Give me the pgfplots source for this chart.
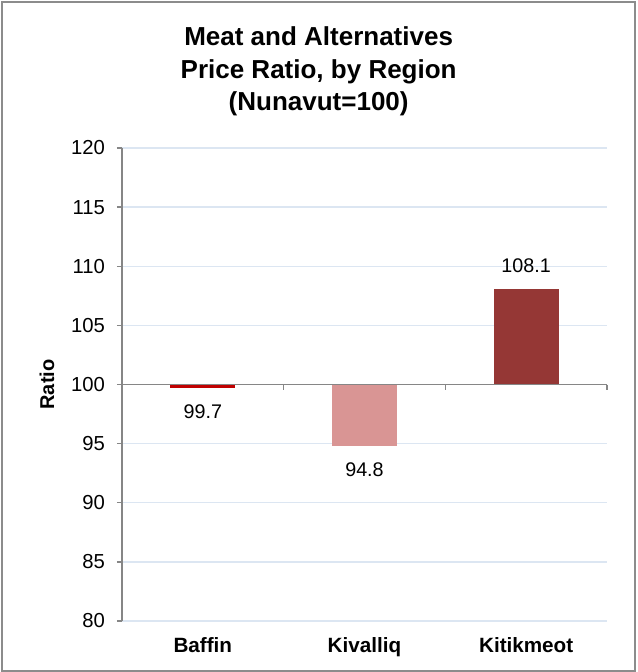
\documentclass[border=0pt]{standalone}
\usepackage{pgfplots}
\pgfplotsset{compat=1.18}
\usepackage{fontspec}
\setmainfont{Liberation Sans}

\definecolor{baffin}{HTML}{C00000}
\definecolor{kivalliq}{HTML}{D99594}
\definecolor{kitik}{HTML}{953735}
\definecolor{gridblue}{HTML}{DCE6F2}
\definecolor{axisgray}{HTML}{868686}
\definecolor{framegray}{HTML}{8C8C8C}

\begin{document}
\begin{tikzpicture}
% 1px of the reference = 0.75pt
\useasboundingbox (0,0) rectangle (477.75pt,-504pt);
\draw[framegray, line width=1.5pt] (1.5pt,-1.5pt) rectangle (476.25pt,-502.9pt);

\node[font=\fontsize{19.5}{24.4}\selectfont\bfseries, align=center] at (239pt,-53.6pt)
  {Meat and Alternatives\\Price Ratio, by Region\\(Nunavut=100)};
\node[font=\fontsize{15}{17}\selectfont\bfseries, rotate=90] at (35.25pt,-288.4pt) {Ratio};

\begin{axis}[
    at={(91.5pt,-465.75pt)}, anchor=south west,
    scale only axis,
    width=363.75pt, height=354.75pt,
    % bars hang from 100, so shift the y scale by 100
    y coord trafo/.code={\pgfmathparse{#1-100}},
    y coord inv trafo/.code={\pgfmathparse{#1+100}},
    ymin=80, ymax=120,
    ytick={80,85,90,95,100,105,110,115,120},
    yticklabels={80,85,90,95,100,105,110,115,120},
    xmin=-0.5, xmax=2.5,
    xtick={0,1,2},
    xticklabels={Baffin,Kivalliq,Kitikmeot},
    axis y line*=left,
    axis x line*=bottom,
    x axis line style={draw=none},
    y axis line style={axisgray, line width=1.1pt},
    xtick style={draw=none},
    ytick style={axisgray, line width=1.1pt},
    tick align=outside,
    major tick length=3.75pt,
    ymajorgrids,
    grid style={gridblue, line width=1pt},
    yticklabel style={font=\fontsize{15.2}{17}\selectfont, xshift=-5.5pt},
    xticklabel style={font=\fontsize{15.5}{18}\selectfont\bfseries, yshift=-5pt},
    /pgf/number format/assume math mode=true,
    ybar, bar width=48.75pt, bar shift=0pt,
    point meta=explicit symbolic,
    nodes near coords,
    every node near coord/.append style={font=\fontsize{14.8}{17}\selectfont, text=black, anchor=center},
    clip=false,
]
\addplot[fill=baffin, draw=none, every node near coord/.append style={anchor=center, yshift=-18pt}]
  coordinates {(0,99.7) [99.7]};
\addplot[fill=kivalliq, draw=none, every node near coord/.append style={anchor=center, yshift=-18pt}]
  coordinates {(1,94.8) [94.8]};
\addplot[fill=kitik, draw=none, every node near coord/.append style={anchor=center, yshift=17.3pt}]
  coordinates {(2,108.1) [108.1]};

\draw[axisgray, line width=1.1pt] (axis cs:-0.5,100) -- (axis cs:2.5,100);
\draw[axisgray, line width=1.1pt] (axis cs:0.5,100) -- ++(0pt,-3.75pt);
\draw[axisgray, line width=1.1pt] (axis cs:1.5,100) -- ++(0pt,-3.75pt);
\draw[axisgray, line width=1.1pt] (axis cs:2.5,100) -- ++(0pt,-3.75pt);
\end{axis}
\end{tikzpicture}
\end{document}
